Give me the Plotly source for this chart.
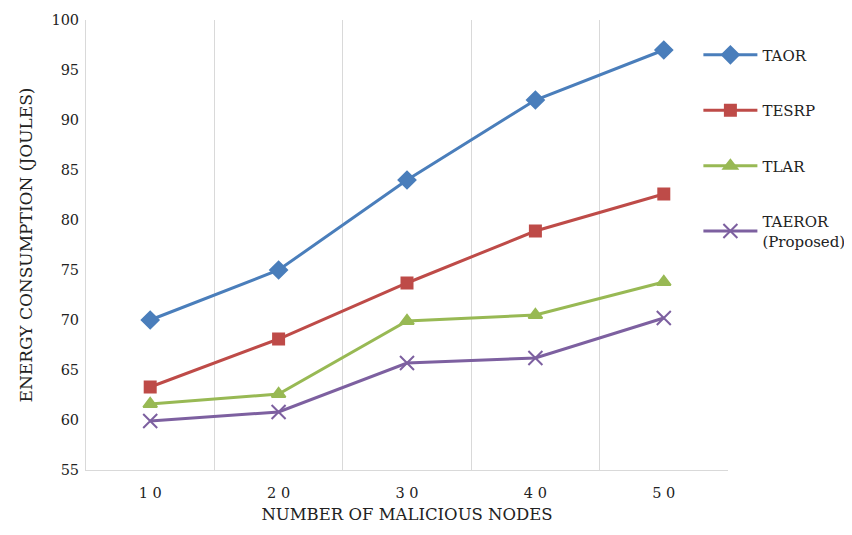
import plotly.graph_objects as go

nodes = [10, 20, 30, 40, 50]
taor = [70, 75, 84, 92, 97]
tesrp = [63.3, 68.1, 73.7, 78.9, 82.6]
tlar = [61.6, 62.6, 69.9, 70.5, 73.8]
taeror = [59.9, 60.8, 65.7, 66.2, 70.2]

series = [
    ("TAOR", taor, "#4A7EBB", "diamond", 13),
    ("TESRP", tesrp, "#BE4B48", "square", 11),
    ("TLAR", tlar, "#98B954", "triangle-up", 12),
    ("TAEROR<br>(Proposed)", taeror, "#7D60A0", "x-thin-open", 14),
]

fig = go.Figure()
for i, (name, vals, col, sym, sz) in enumerate(series):
    fig.add_trace(go.Scatter(
        x=nodes, y=vals, name=name, mode="lines+markers",
        line=dict(color=col, width=3),
        marker=dict(symbol=sym, size=sz, color=col, line=dict(color=col, width=2)),
        legendgroup=f"g{i}",
    ))

font = "DejaVu Serif"
fig.update_layout(
    template="none",
    width=844, height=527,
    margin=dict(l=78, r=124, t=12, b=65, autoexpand=False),
    paper_bgcolor="white", plot_bgcolor="white",
    font=dict(family=font, size=14, color="#222"),
    legend=dict(xref="container", yref="container", x=0.818, y=0.942,
                xanchor="left", yanchor="top",
                traceorder="grouped", tracegroupgap=33, itemwidth=54,
                font=dict(family=font, size=15, color="#222"),
                bgcolor="rgba(0,0,0,0)"),
    showlegend=True,
)
fig.update_xaxes(
    range=[5, 55], tickvals=nodes, ticktext=["1 0", "2 0", "3 0", "4 0", "5 0"],
    showgrid=False, zeroline=False,
    minor=dict(tick0=5, dtick=10, showgrid=True, gridcolor="#d9d9d9", gridwidth=1),
    showline=True, linecolor="#d9d9d9", linewidth=1,
    ticks="", ticklabelstandoff=10,
    tickfont=dict(size=14.5),
    title=dict(text="NUMBER OF MALICIOUS NODES", font=dict(size=16.5), standoff=8),
)
fig.update_yaxes(
    range=[55, 100], dtick=5, showgrid=False, zeroline=False,
    showline=True, linecolor="#d9d9d9", linewidth=1, ticks="",
    ticklabelstandoff=3,
    tickfont=dict(size=14.5),
    title=dict(text="ENERGY CONSUMPTION (JOULES)", font=dict(size=17), standoff=14),
)
fig.write_html("out.html")
